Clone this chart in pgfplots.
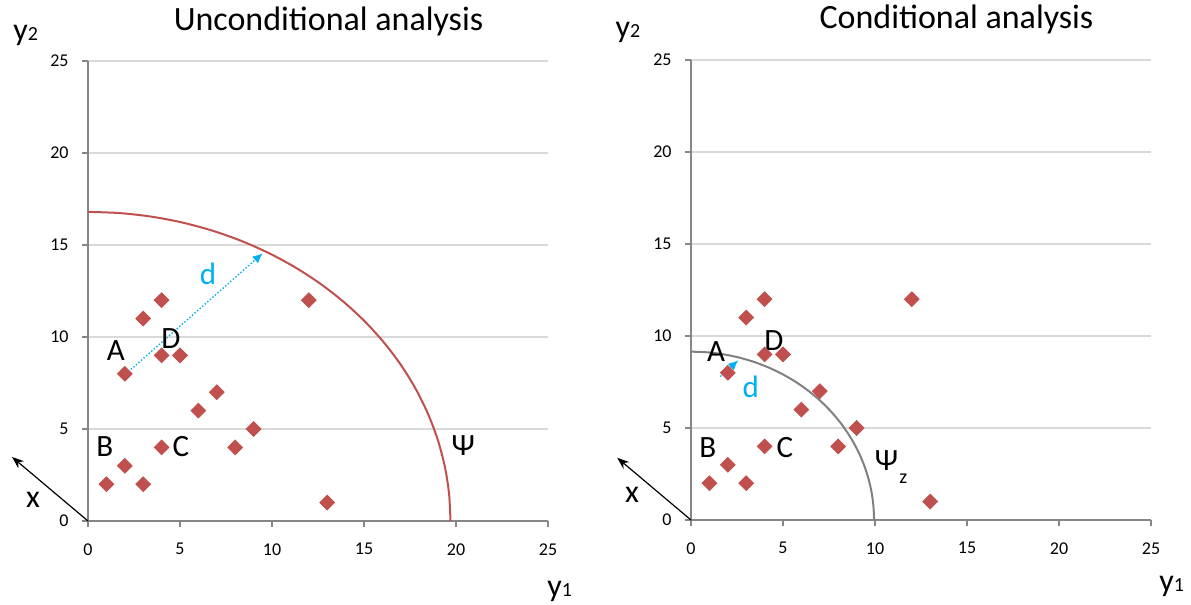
\documentclass[border=0pt]{standalone}
\usepackage{fontspec}
\setmainfont{Carlito}
\usepackage{pgfplots}
\pgfplotsset{compat=1.18}
\usetikzlibrary{arrows.meta}

\definecolor{mred}{HTML}{C0504D}
\definecolor{gridc}{HTML}{D9D9D9}
\definecolor{axc}{HTML}{868686}
\definecolor{cyanc}{HTML}{00B0F0}
\definecolor{arcgray}{HTML}{808080}

\pgfplotsset{
  myax/.style={
    scale only axis, width=230pt, height=230pt,
    xmin=0, xmax=25, ymin=0, ymax=25,
    xtick={0,5,...,25}, ytick={0,5,...,25},
    axis lines*=left,
    axis line style={axc, line width=0.6pt},
    ymajorgrids, major grid style={gridc, line width=0.6pt},
    tick align=outside, major tick length=3pt,
    tick style={axc, line width=0.6pt},
    /pgf/number format/assume math mode=true,
    ticklabel style={font=\fontsize{9}{10.8}\selectfont, inner sep=0pt},
    xticklabel style={yshift=-8pt},
    yticklabel style={xshift=-6.5pt},
    clip=false,
  },
  pts/.style={only marks, mark=square*, mark size=2.6pt,
    mark options={rotate=45, fill=mred, draw=mred}},
}
\tikzset{lab/.style={font=\fontsize{15.5}{18}\selectfont, inner sep=0pt}}

\begin{document}
\begin{tikzpicture}
\useasboundingbox (0,0) rectangle (595.5pt,-302.5pt);

% ---------------- Left panel ----------------
\begin{axis}[myax, at={(44pt,-260.5pt)}, anchor=origin]
\addplot[pts] coordinates {
 (1,2) (2,3) (3,2) (2,8) (3,11) (4,12) (4,9) (5,9) (4,4)
 (6,6) (7,7) (8,4) (9,5) (12,12) (13,1)};
\addplot[mred, line width=1pt, smooth] coordinates {
 (0,16.8) (1.717,16.736) (3.421,16.545) (5.099,16.228) (6.738,15.787)
 (8.326,15.226) (9.850,14.549) (11.300,13.762) (12.663,12.869)
 (13.930,11.879) (15.091,10.799) (16.137,9.636) (17.061,8.400)
 (17.854,7.100) (18.512,5.746) (19.029,4.348) (19.401,2.917)
 (19.625,1.464) (19.70,0)};
\addplot[cyanc, densely dotted, line width=0.7pt, -{Latex[length=5pt,width=4.5pt]}]
 coordinates {(2.19,8.11) (9.49,14.55)};
\draw[-{Stealth[length=6pt,width=4.5pt]}, line width=0.6pt] (axis cs:0,0) -- (axis cs:-4.13,3.48);
\node[lab] at (axis cs:1.52,9.24) {A};
\node[lab] at (axis cs:4.51,9.89) {D};
\node[lab] at (axis cs:0.92,4.02) {B};
\node[lab] at (axis cs:5.05,4.02) {C};
\node[lab, text=cyanc] at (axis cs:6.52,13.42) {d};
\node[lab] at (axis cs:20.4,4.08) {Ψ};
\node[font=\fontsize{16}{19}\selectfont, inner sep=0pt] at (axis cs:-2.99,1.14) {x};
\node[font=\fontsize{17}{20}\selectfont, inner sep=0pt, anchor=base] at (axis cs:13.07,26.68) {Unconditional analysis};
\node[font=\fontsize{16}{19}\selectfont, inner sep=0pt, anchor=base west] at (axis cs:-4.08,26.14) {y{\fontsize{10}{12}\selectfont 2}};
\node[font=\fontsize{16}{19}\selectfont, inner sep=0pt, anchor=base west] at (axis cs:24.95,-4.08) {y{\fontsize{10}{12}\selectfont 1}};
\end{axis}

% ---------------- Right panel ----------------
\begin{axis}[myax, at={(345.5pt,-260pt)}, anchor=origin]
\addplot[pts] coordinates {
 (1,2) (2,3) (3,2) (2,8) (3,11) (4,12) (4,9) (5,9) (4,4)
 (6,6) (7,7) (8,4) (9,5) (12,12) (13,1)};
\addplot[arcgray, line width=1pt, smooth] coordinates {
 (0,9.15) (0.867,9.115) (1.728,9.011) (2.575,8.838) (3.403,8.598)
 (4.205,8.293) (4.975,7.924) (5.707,7.495) (6.396,7.009) (7.036,6.470)
 (7.622,5.882) (8.151,5.248) (8.617,4.575) (9.018,3.867) (9.350,3.129)
 (9.611,2.368) (9.799,1.589) (9.912,0.797) (9.95,0)};
\addplot[cyanc, densely dotted, line width=0.7pt, -{Latex[length=5pt,width=4.5pt]}]
 coordinates {(1.6,7.8) (2.57,8.68)};
\draw[-{Stealth[length=6pt,width=4.5pt]}, line width=0.6pt] (axis cs:0,0) -- (axis cs:-4.01,3.38);
\node[lab] at (axis cs:1.36,9.15) {A};
\node[lab] at (axis cs:4.5,9.75) {D};
\node[lab] at (axis cs:0.92,3.92) {B};
\node[lab] at (axis cs:5.1,3.92) {C};
\node[lab, text=cyanc] at (axis cs:3.25,7.24) {d};
\node[lab] at (axis cs:10.63,3.21) {Ψ};
\node[font=\fontsize{10}{12}\selectfont, inner sep=0pt, anchor=base west] at (axis cs:11.3,2.0) {z};
\node[font=\fontsize{16}{19}\selectfont, inner sep=0pt] at (axis cs:-3.2,1.36) {x};
\node[font=\fontsize{17}{20}\selectfont, inner sep=0pt, anchor=base] at (axis cs:14.43,26.69) {Conditional analysis};
\node[font=\fontsize{16}{19}\selectfont, inner sep=0pt, anchor=base west] at (axis cs:-4.12,26.2) {y{\fontsize{10}{12}\selectfont 2}};
\node[font=\fontsize{16}{19}\selectfont, inner sep=0pt, anchor=base west] at (axis cs:25.43,-3.87) {y{\fontsize{10}{12}\selectfont 1}};
\end{axis}
\end{tikzpicture}
\end{document}
